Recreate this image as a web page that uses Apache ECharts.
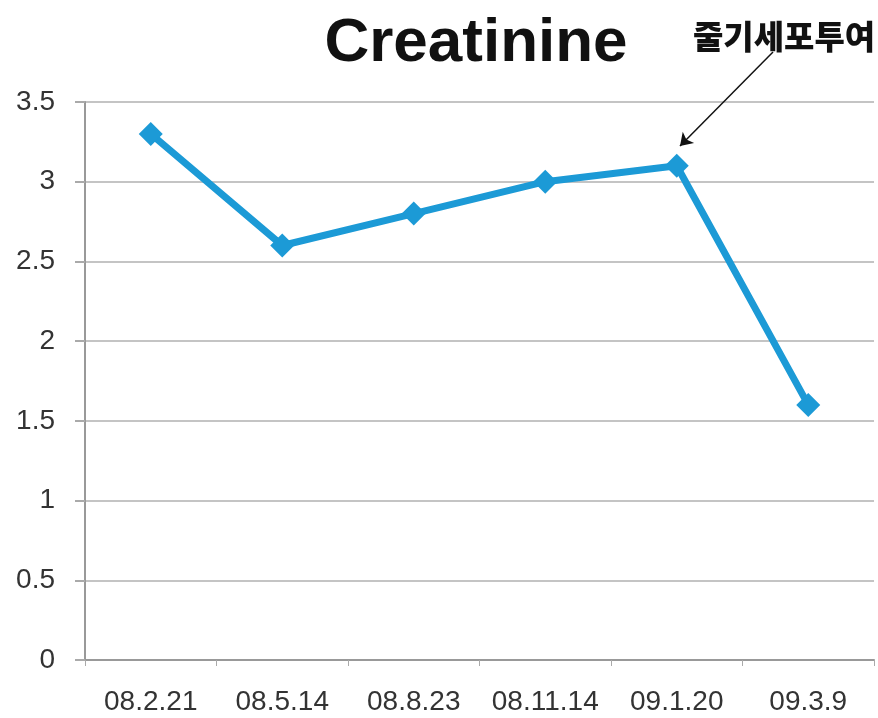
<!DOCTYPE html>
<html>
<head>
<meta charset="utf-8">
<script src="https://cdn.jsdelivr.net/npm/echarts@6/dist/echarts.min.js"></script>
<style>
html, body { margin: 0; padding: 0; background: #fff; }
#chart { width: 878px; height: 718px; }
</style>
</head>
<body>
<div id="chart"></div>
<script>
const dates = ["08.2.21", "08.5.14", "08.8.23", "08.11.14", "09.1.20", "09.3.9"];
const creatinine = [3.3, 2.6, 2.8, 3.0, 3.1, 1.6];
const yTicks = [0, 0.5, 1, 1.5, 2, 2.5, 3, 3.5];

const chart = echarts.init(document.getElementById("chart"));
chart.setOption({
    animation: false,
    title: {
        text: "Creatinine",
        left: 471,
        textAlign: "center",
        top: 8,
        textStyle: {
            fontFamily: "Liberation Sans, Arial",
            fontSize: 62,
            fontWeight: "bold",
            color: "#111",
        },
    },
    graphic: [
        {
            type: "text",
            left: 693,
            top: 20,
            style: {
                text: "줄기세포투여",
                font: "900 33px 'Noto Sans CJK KR'",
                fill: "#111",
            },
        },
    ],
    grid: {
        left: 85,
        right: 4,
        top: 102,
        bottom: 58,
    },
    xAxis: {
        type: "category",
        data: dates,
        boundaryGap: true,
        axisLine: { lineStyle: { color: "#999", width: 2 } },
        axisTick: { show: true, interval: 0, length: 6, lineStyle: { color: "#aaa" } },
        axisLabel: {
            interval: 0,
            fontFamily: "Liberation Sans, Arial",
            fontSize: 28,
            color: "#333",
            margin: 28,
        },
    },
    yAxis: {
        type: "value",
        min: yTicks[0],
        max: yTicks[yTicks.length - 1],
        interval: 0.5,
        axisLine: { show: true, lineStyle: { color: "#999", width: 2 } },
        axisTick: { show: true, length: 10, lineStyle: { color: "#aaa", width: 2 } },
        splitLine: { lineStyle: { color: "#c4c4c4", width: 2 } },
        axisLabel: {
            fontFamily: "Liberation Sans, Arial",
            fontSize: 28,
            color: "#333",
            margin: 30,
        },
    },
    series: [
        {
            type: "line",
            data: creatinine,
            symbol: "diamond",
            symbolSize: 24,
            itemStyle: { color: "#1C9AD6" },
            lineStyle: { color: "#1C9AD6", width: 7 },
            markLine: {
                silent: true,
                symbol: ["none", "arrow"],
                symbolSize: 12,
                label: { show: false },
                lineStyle: { color: "#111", width: 1.5, type: "solid" },
                data: [[{ x: 773, y: 52 }, { x: 680, y: 146 }]],
            },
        },
    ],
});
</script>
</body>
</html>
